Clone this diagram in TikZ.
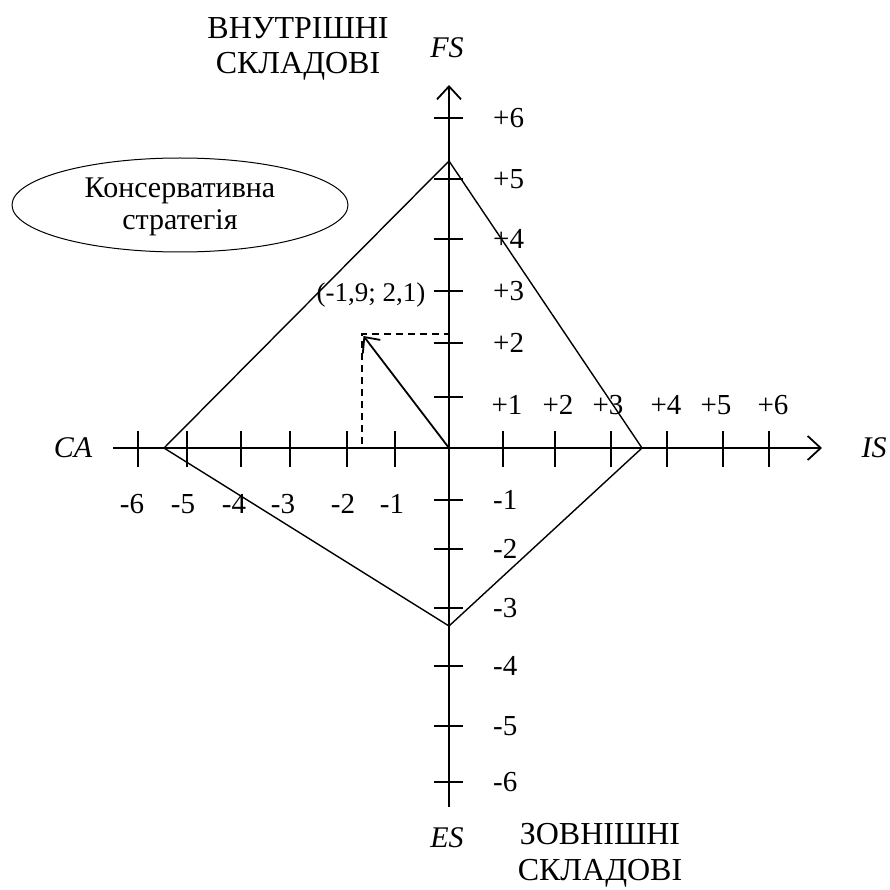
\documentclass[tikz,border=0pt]{standalone}
\usepackage{fontspec}
\setmainfont{Liberation Serif}
\usetikzlibrary{arrows.meta}
\begin{document}
\begin{tikzpicture}[x=1pt,y=-1pt,
  axis/.style={line width=1.8pt},
  tick/.style={line width=1.6pt},
  edge/.style={line width=1.4pt},
  guide/.style={line width=1.1pt,dash pattern=on 7pt off 5pt},
  barb/.style={-{Straight Barb[length=13pt,width=24pt,line width=1.8pt]}},
  lbl/.style={inner sep=0pt,font=\fontsize{29}{34}\selectfont},
  axname/.style={inner sep=0pt,font=\fontsize{30}{36}\selectfont\itshape},
  every node/.style={lbl}]
\useasboundingbox (0,0) rectangle (889,890);
% axes
\coordinate (xs) at (113,448);
\coordinate (xe) at (822,448);
\coordinate (ys) at (449,807);
\coordinate (ye) at (449,85);
\coordinate (O) at (449,448);
\draw[axis,barb] (xs) -- (xe);
\draw[axis,barb] (ys) -- (ye);
% ticks x
\foreach \x in {138,187,241,290,347,395,503,555,611,667,723,769}
  \draw[tick] (\x,431) -- (\x,467);
% ticks y
\foreach \y in {118,179,239,291,343,397,500,549,608,666,726,782}
  \draw[tick] (434,\y) -- (463,\y);
% x labels
\foreach \x/\t in {132/-6,183/-5,234/-4,283/-3,343/-2,392/-1}
  \node (xl\t) at (\x,504) {\t};
\foreach \x/\t in {507/1,558/2,608/3,666/4,716/5,773/6}
  \node (xp\t) at (\x,405) {+\t};
% y labels
\foreach \y/\t in {118/6,179/5,239/4,291/3,343/2}
  \node[anchor=west] (yp\t) at (493,\y) {+\t};
\foreach \y/\t in {500/1,549/2,608/3,666/4,726/5,782/6}
  \node[anchor=west] (yn\t) at (493,\y) {-\t};
% diamond
\coordinate (L) at (164,448);
\coordinate (T) at (449,161);
\coordinate (R) at (642,448);
\coordinate (B) at (449,626);
\draw[edge,line join=miter] (L) -- (T) -- (R) -- (B) -- cycle;
% vector
\coordinate (P) at (362,334);
\coordinate (Px) at (362,444);
\coordinate (Py) at (448,334);
\draw[guide] (Px) -- (P) -- (Py);
\draw[line width=1.8pt,-{Straight Barb[length=12pt,width=22pt,line width=1.8pt]}] (O) -- (363.5,336);
\node[font=\fontsize{27}{32}\selectfont] (pt) at (371,295) {(-1,9; 2,1)};
% axis names
\node[axname] (FS) at (447,48) {FS};
\node[axname] (ES) at (447,838) {ES};
\node[axname] (CA) at (73,448) {CA};
\node[axname] (IS) at (874,448) {IS};
\node[align=center,font=\fontsize{32}{35}\selectfont] (int) at (298,49) {ВНУТРІШНІ\\СКЛАДОВІ};
\node[align=center,font=\fontsize{32}{36}\selectfont] (ext) at (600,855) {ЗОВНІШНІ\\СКЛАДОВІ};
% ellipse
\draw[line width=1pt] (180,205) ellipse [x radius=168, y radius=47];
\node[align=center,font=\fontsize{30}{32}\selectfont] (str) at (180,207) {Консервативна\\стратегія};
\end{tikzpicture}
\end{document}
